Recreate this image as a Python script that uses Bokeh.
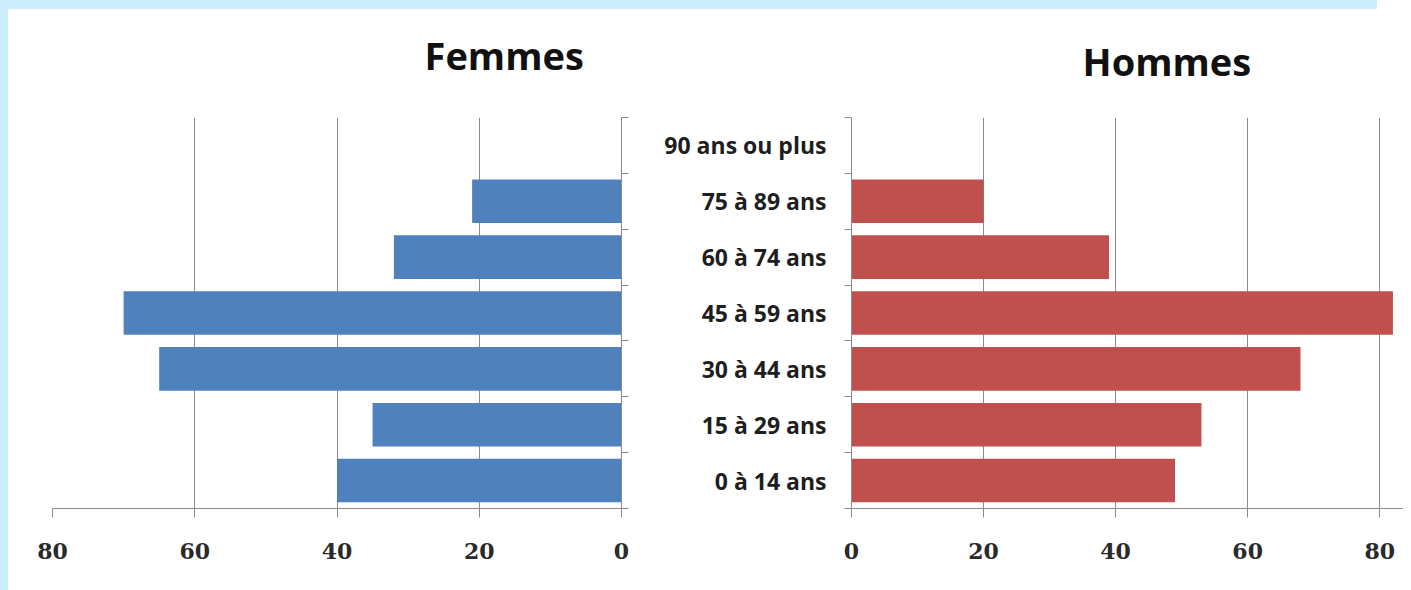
from bokeh.plotting import figure
from bokeh.layouts import row, column
from bokeh.models import Range1d, FixedTicker, Label
from bokeh.embed import file_html
from bokeh.resources import INLINE

# ---- data ----
age_groups = ["0 à 14 ans", "15 à 29 ans", "30 à 44 ans", "45 à 59 ans",
              "60 à 74 ans", "75 à 89 ans", "90 ans ou plus"]
femmes = [40, 35, 65, 70, 32, 21, 0]
hommes = [49, 53, 68, 82, 39, 20, 0]
x_ticks = [0, 20, 40, 60, 80]

centers = [i + 0.5 for i in range(len(age_groups))]
bounds = list(range(len(age_groups) + 1))

BLUE = "#4f81bd"
RED = "#c0504d"
GRID = "#8a8a8a"
TXT = "#2a2a2a"
TOP = 117          # height of the title strip
H = 465            # height of the chart rows
BOTTOM_BORDER = 74
WL, WR = 640, 763
LB_L, RB_L = 52, 19     # left panel borders
LB_R, RB_R = 211, 0     # right panel borders


def style_x(p):
    ax = p.xaxis[0]
    ax.ticker = FixedTicker(ticks=x_ticks)
    ax.axis_line_color = GRID
    ax.major_tick_line_color = GRID
    ax.major_tick_out = 9
    ax.major_tick_in = 0
    ax.minor_tick_line_color = None
    ax.major_label_text_font = "DejaVu Serif"
    ax.major_label_text_font_style = "bold"
    ax.major_label_text_font_size = "22px"
    ax.major_label_text_color = TXT
    ax.major_label_standoff = 25
    p.xgrid.ticker = FixedTicker(ticks=x_ticks)
    p.xgrid.grid_line_color = GRID
    p.ygrid.grid_line_color = None
    p.outline_line_color = None
    p.border_fill_color = None


def title_fig(width, xr, lb, rb, text, x, baseline, align):
    t = figure(width=width, height=TOP, x_range=xr, y_range=Range1d(TOP, 0),
               x_axis_type=None, y_axis_type=None, output_backend="svg",
               toolbar_location=None, min_border_left=lb, min_border_right=rb,
               min_border_top=0, min_border_bottom=0)
    t.outline_line_color = None
    t.border_fill_color = None
    t.background_fill_color = None
    t.add_layout(Label(x=x, y=baseline, text=text, text_align=align,
                       text_baseline="alphabetic", text_font="Open Sans",
                       text_font_style="bold", text_font_size="38px",
                       text_color="#111111"))
    return t


# ---- left panel: Femmes ----
xr_l = Range1d(80, 0)
pl = figure(width=WL, height=H, x_range=xr_l, y_range=Range1d(0, 7),
            y_axis_location="right", output_backend="svg", toolbar_location=None,
            min_border_left=LB_L, min_border_right=RB_L, min_border_top=0,
            min_border_bottom=BOTTOM_BORDER)
pl.hbar(y=centers, height=0.78, left=0, right=femmes, fill_color=BLUE, line_color=None)
style_x(pl)
yl = pl.yaxis[0]
yl.ticker = FixedTicker(ticks=[], minor_ticks=bounds)
yl.axis_line_color = GRID
yl.minor_tick_line_color = GRID
yl.minor_tick_out = 7
yl.minor_tick_in = 0
yl.major_tick_line_color = None
yl.major_label_standoff = 0
tl = title_fig(WL, xr_l, LB_L, RB_L, "Femmes", 5.3, 54, "right")

# ---- right panel: Hommes ----
xr_r = Range1d(0, 83.6)
pr = figure(width=WR, height=H, x_range=xr_r, y_range=Range1d(0, 7),
            y_axis_location="left", output_backend="svg", toolbar_location=None,
            min_border_left=LB_R, min_border_right=RB_R, min_border_top=0,
            min_border_bottom=BOTTOM_BORDER)
pr.hbar(y=centers, height=0.78, left=0, right=hommes, fill_color=RED, line_color=None)
style_x(pr)
yr = pr.yaxis[0]
yr.ticker = FixedTicker(ticks=centers, minor_ticks=bounds)
yr.major_label_overrides = {c: lab for c, lab in zip(centers, age_groups)}
yr.axis_line_color = GRID
yr.minor_tick_line_color = GRID
yr.minor_tick_out = 7
yr.minor_tick_in = 0
yr.major_tick_line_color = None
yr.major_tick_out = 0
yr.major_tick_in = 0
yr.major_label_standoff = 18
yr.major_label_text_font = "Open Sans"
yr.major_label_text_font_style = "bold"
yr.major_label_text_font_size = "23px"
yr.major_label_text_color = "#1e1e1e"
tr = title_fig(WR, xr_r, LB_R, RB_R, "Hommes", 35.0, 60, "left")

layout = column(row(tl, tr), row(pl, pr))

html = file_html(layout, INLINE)
css = ("<style>body{background:"
       "linear-gradient(#cdeefd,#cdeefd) 0 0/1377px 9px no-repeat,"
       "linear-gradient(#cdeefd,#cdeefd) 0 0/8px 100% no-repeat,#ffffff;}</style></head>")
html = html.replace("</head>", css, 1)
open("out.html", "w").write(html)
